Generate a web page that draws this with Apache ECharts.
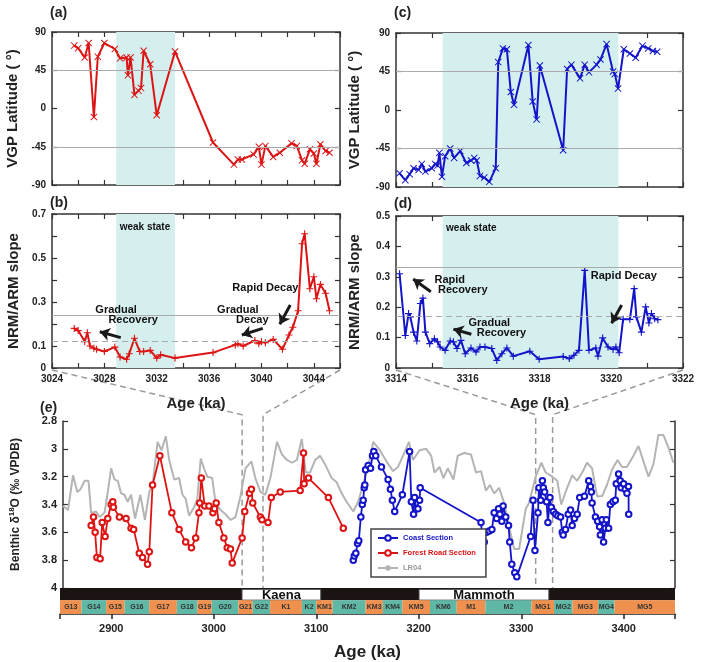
<!DOCTYPE html>
<html>
<head>
<meta charset="utf-8">
<script src="https://cdn.jsdelivr.net/npm/echarts@6/dist/echarts.min.js"></script>
<style>
html, body { margin: 0; padding: 0; background: #fff; }
#chart { width: 705px; height: 662px; }
</style>
</head>
<body>
<div id="chart"></div>
<script>
// ---- panel (a): Forest Road VGP latitude ----
var aAge = [3025.7,3026.0,3026.5,3026.8,3027.2,3027.5,3028.0,3028.8,3029.2,3029.7,3029.8,3030.0,3030.3,3030.6,3030.8,3031.0,3031.5,3032.0,3033.4,3036.3,3037.9,3038.2,3038.5,3039.4,3039.8,3040.0,3040.3,3040.9,3041.4,3042.3,3042.7,3043.1,3043.3,3043.7,3044.0,3044.2,3044.5,3044.9,3045.2];
var aLat = [74,71,60,77,-10,61,77,70,59,60,39,60,16,21,24,68,52,-8,67,-40,-66,-60,-60,-54,-45,-66,-44,-57,-52,-41,-44,-61,-65,-48,-53,-65,-42,-50,-52];
// ---- panel (b): Forest Road NRM/ARM slope ----
var bAge = [3025.7,3026.0,3026.5,3026.7,3026.9,3027.2,3027.4,3028.0,3028.8,3029.2,3029.7,3029.9,3030.3,3030.7,3031.0,3031.5,3032.0,3032.3,3033.4,3036.3,3038.0,3038.2,3038.6,3039.5,3039.8,3040.0,3040.3,3040.9,3041.6,3042.1,3042.4,3042.8,3043.1,3043.3,3043.7,3044.0,3044.2,3044.5,3044.9,3045.2];
var bSlope = [0.18,0.17,0.12,0.16,0.10,0.09,0.085,0.075,0.095,0.05,0.04,0.065,0.135,0.075,0.075,0.08,0.045,0.06,0.045,0.07,0.105,0.11,0.10,0.125,0.11,0.12,0.115,0.13,0.085,0.15,0.185,0.26,0.565,0.61,0.36,0.415,0.315,0.38,0.34,0.26];
// ---- panel (c): Coast VGP latitude ----
var cAge = [3314.1,3314.26,3314.38,3314.49,3314.63,3314.72,3314.82,3315.0,3315.09,3315.16,3315.21,3315.28,3315.37,3315.51,3315.62,3315.79,3315.96,3316.09,3316.18,3316.25,3316.34,3316.46,3316.6,3316.78,3316.85,3316.98,3317.09,3317.2,3317.29,3317.69,3317.81,3317.92,3318.01,3318.66,3318.77,3318.89,3319.13,3319.26,3319.38,3319.59,3319.7,3319.87,3320.05,3320.1,3320.19,3320.35,3320.52,3320.68,3320.87,3321.03,3321.16,3321.28];
var cLat = [-74,-82,-75,-68,-70,-63,-72,-68,-63,-65,-50,-78,-54,-45,-56,-48,-62,-59,-56,-59,-77,-79,-84,-68,56,72,71,21,6,76,10,-11,52,-47,48,53,37,53,44,53,59,77,45,42,25,71,66,61,75,72,69,68];
// ---- panel (d): Coast NRM/ARM slope ----
var dAge = [3314.1,3314.26,3314.35,3314.4,3314.49,3314.58,3314.68,3314.75,3314.82,3314.94,3315.07,3315.16,3315.23,3315.37,3315.51,3315.6,3315.7,3315.81,3315.93,3316.09,3316.23,3316.34,3316.48,3316.67,3316.81,3316.95,3317.09,3317.27,3317.73,3317.99,3318.66,3318.83,3318.96,3319.1,3319.26,3319.38,3319.57,3319.63,3319.76,3319.91,3320.05,3320.13,3320.22,3320.33,3320.52,3320.64,3320.7,3320.84,3320.96,3321.05,3321.12,3321.21,3321.3];
var dSlope = [0.31,0.107,0.179,0.168,0.118,0.089,0.212,0.23,0.118,0.08,0.096,0.086,0.069,0.058,0.089,0.086,0.064,0.091,0.047,0.066,0.053,0.069,0.069,0.064,0.025,0.047,0.066,0.039,0.055,0.029,0.038,0.031,0.042,0.058,0.321,0.058,0.066,0.039,0.099,0.069,0.061,0.069,0.05,0.16,0.16,0.261,0.168,0.118,0.201,0.148,0.179,0.162,0.159];
var weakAB = [3028.9, 3033.4];
var weakCD = [3315.3, 3320.2];

// ---- panel (e): benthic d18O ----
var forestAge = [2877.6,2879.9,2881.5,2883.2,2886.4,2888.4,2891.3,2893.9,2897.2,2898.8,2899.4,2905.3,2911.8,2916.7,2919.3,2924.8,2928.0,2932.9,2934.6,2937.8,2945.0,2956.7,2963.8,2970.3,2975.9,2980.1,2983.3,2984.0,2985.6,2988.9,2993.1,2997.0,2998.6,3000.2,3002.8,3007.7,3011.0,3014.2,3015.9,3025.6,3028.2,3032.8,3034.7,3036.0,3043.5,3045.1,3051.0,3054.2,3063.0,3082.5,3085.8,3086.4,3090.7,3110.2,3124.8];
var forestD18O = [3.55,3.49,3.60,3.78,3.79,3.53,3.63,3.50,3.40,3.38,3.42,3.49,3.50,3.57,3.58,3.75,3.78,3.83,3.74,3.26,3.05,3.46,3.58,3.67,3.71,3.64,3.46,3.39,3.21,3.41,3.41,3.46,3.43,3.39,3.53,3.64,3.71,3.72,3.82,3.64,3.45,3.32,3.29,3.39,3.49,3.51,3.53,3.35,3.31,3.30,3.03,3.25,3.21,3.35,3.57];
var coastAge = [3134.6,3135.6,3137.1,3138.8,3140.0,3142.0,3143.4,3144.3,3145.3,3145.9,3146.6,3149.2,3151.5,3153.4,3154.7,3156.6,3162.2,3168.7,3171.0,3172.9,3175.2,3182.7,3189.8,3191.5,3193.7,3194.7,3196.3,3198.0,3199.6,3200.2,3259.8,3261.4,3263.0,3265.3,3267.9,3270.5,3272.7,3275.1,3277.0,3278.3,3280.2,3281.5,3284.1,3286.8,3288.0,3290.0,3292.9,3294.9,3308.5,3310.8,3312.7,3315.7,3316.6,3318.3,3320.0,3320.9,3322.2,3324.1,3325.4,3327.4,3328.7,3330.7,3332.9,3335.2,3337.8,3339.5,3340.4,3342.7,3345.3,3347.6,3349.2,3351.5,3354.1,3356.6,3361.2,3365.4,3367.1,3368.0,3368.7,3372.0,3374.2,3376.1,3376.8,3378.5,3380.0,3381.7,3382.7,3384.9,3386.6,3389.2,3391.5,3392.4,3394.7,3396.3,3397.3,3399.6,3401.2,3402.9,3404.4,3404.6];
var coastD18O = [3.80,3.77,3.75,3.68,3.66,3.49,3.40,3.37,3.28,3.26,3.15,3.12,3.14,3.05,3.02,3.05,3.13,3.22,3.29,3.37,3.45,3.33,3.02,3.38,3.47,3.35,3.43,3.43,3.37,3.28,3.53,3.66,3.67,3.60,3.59,3.58,3.46,3.50,3.43,3.47,3.52,3.41,3.49,3.55,3.67,3.83,3.89,3.92,3.63,3.37,3.73,3.46,3.28,3.37,3.23,3.28,3.31,3.38,3.53,3.35,3.42,3.45,3.47,3.48,3.49,3.60,3.62,3.58,3.47,3.44,3.55,3.50,3.47,3.35,3.34,3.23,3.27,3.31,3.39,3.49,3.52,3.56,3.62,3.51,3.67,3.57,3.51,3.57,3.40,3.38,3.37,3.25,3.18,3.23,3.28,3.25,3.29,3.32,3.27,3.47];
var lr04Age = [2850,2854.9,2859.8,2864,2867.2,2871.1,2875,2877.6,2882.5,2885.8,2890.7,2893.9,2897.2,2900.4,2903.7,2906.9,2910.2,2913.4,2916.7,2920.6,2925.8,2930.3,2934.6,2937.8,2942.7,2946.6,2950.8,2954.1,2959,2963.8,2967.1,2970.3,2973.6,2978.5,2981.7,2985,2988.2,2991.5,2996.3,
  2999.6,3004.5,3009.3,3014.2,3019.1,3024,3028.9,3034.7,3038.6,3043.5,3048.4,3053.3,3059.8,3064.6,3069.5,3074.4,3079.3,3084.1,3088,3092.3,3097.2,3102,3106.9,3113.4,3118.3,3123.2,3128,3134.6,3139.4,
  3149.2,3154.1,3160.6,3167.1,3173.6,3178.5,3183.3,3189.2,3193.1,3199.6,3206.1,3211,3214.2,3219.1,3223,3227.2,3232.8,3237,3243.5,3250,3254.9,3259.8,3264.6,3268.5,3272.8,3277.6,3282.5,3287.4,3292.3,3297.2,
  3303.7,3306.9,3313.4,3319,3323.2,3329.7,3334.6,3338.5,3342.7,3349.2,3354.1,3359,3363.8,3368.7,3373.6,3378.5,3383.3,3388.2,3393.7,3398,3402.8,3409.3,3414.2,3419.1,3424,3428.9,3433.7,3438.6,3443.5,3448.4];
var lr04D18O = [3.41,3.44,3.19,3.31,3.29,3.23,3.23,3.46,3.45,3.49,3.46,3.31,3.14,3.22,3.23,3.32,3.33,3.38,3.33,3.50,3.33,3.51,3.31,3.26,2.95,3.01,2.91,3.08,3.22,3.21,3.33,3.36,3.48,3.42,3.36,3.07,3.14,3.20,3.21,
  3.39,3.44,3.47,3.51,3.49,3.34,3.14,3.09,3.21,3.31,3.33,3.21,2.95,3.04,3.08,3.10,3.08,2.93,3.17,3.17,3.08,3.05,3.11,3.21,3.24,3.32,3.38,3.45,3.38,
  3.13,2.95,3.01,3.09,3.16,3.13,3.05,2.95,3.08,3.01,3.00,3.05,3.17,3.13,3.21,3.14,3.22,3.05,3.03,3.04,3.17,3.16,3.30,3.26,3.32,3.28,3.39,3.56,3.72,3.72,
  3.43,3.39,3.20,3.10,3.17,3.20,3.23,3.40,3.31,3.19,3.23,3.17,3.10,3.14,3.34,3.34,3.26,3.15,3.08,3.13,3.13,3.05,2.98,3.09,3.20,3.11,2.90,2.90,2.99,3.10];
var eTickAges = [2850,2900,3000,3100,3200,3300,3400,3450];
var eLabelAges = [2900,3000,3100,3200,3300,3400];
var kaenaZoom = [3025.6, 3046.1];
var mammothZoom = [3313.4, 3330.0];

// ---- stages and polarity ----
var chronNames = ['G13','G14','G15','G16','G17','G18','G19','G20','G21','G22','K1','K2','KM1','KM2','KM3','KM4','KM5','KM6','M1','M2','MG1','MG2','MG3','MG4','MG5'];
var chronEdges = [2850,2871,2895,2913,2937,2964,2984,2998,3024,3038,3055,3086,3100,3116,3148,3165,3184,3211,3237,3265,3310,3332,3350,3375,3391,3450];
var subchronNames = ['Kaena', 'Mammoth'];
var subchronStart = [3027.5, 3200.2];
var subchronEnd = [3104.5, 3327.0];

var font = 'Arial, "Liberation Sans", Helvetica, sans-serif';
var RED = '#dc1414', BLUE = '#1414c8', GRAY = '#b4b4b4', SHADE = '#d5eeee', INK = '#222';
var ORANGE = '#f0904e', TEAL = '#5fb8a6';
var XMARK = 'path://M0,1L1,0L5,4L9,0L10,1L6,5L10,9L9,10L5,6L1,10L0,9L4,5Z';
var PLUS = 'path://M4.2,0H5.8V4.2H10V5.8H5.8V10H4.2V5.8H0V4.2H4.2Z';

function pairs(xs, ys) {
    return xs.map(function (x, i) { return [x, ys[i]]; });
}

function frameAxis(gi, pos, min, max, step, opts) {
    opts = opts || {};
    return {
        type: 'value', gridIndex: gi, position: pos, min: min, max: max, interval: step,
        inverse: !!opts.inverse,
        name: opts.name || '', nameLocation: 'middle', nameGap: opts.nameGap || 0,
        nameTextStyle: { fontFamily: font, fontWeight: 'bold', fontSize: opts.nameSize || 15, color: INK, rich: opts.rich },
        axisLine: { show: true, onZero: false, lineStyle: { color: '#333', width: 1.5 } },
        axisTick: { show: true, inside: true, length: 5, lineStyle: { color: '#333', width: 1.2 } },
        axisLabel: {
            show: !!opts.label, formatter: typeof opts.label === 'function' ? opts.label : null,
            showMinLabel: true, showMaxLabel: true,
            fontFamily: font, fontWeight: 'bold', fontSize: opts.labelSize || 10, color: INK, margin: 6
        },
        splitLine: { show: false }
    };
}

var bAgeLabel = function (v) { var r = Math.round(v); return (r - 3024) % 4 === 0 ? String(r) : ''; };
var dAgeLabel = function (v) { var r = Math.round(v); return r % 2 === 0 ? String(r) : ''; };
var bSlopeLabel = function (v) { var k = Math.round(v * 10); return [0, 1, 3, 5, 7].indexOf(k) >= 0 ? String(k / 10) : ''; };
var dSlopeLabel = function (v) { return String(Math.round(v * 10) / 10); };

function panelSeries(gi, ages, vals, color, symbol, weak, refLines) {
    return {
        type: 'line', xAxisIndex: gi * 2, yAxisIndex: gi * 2,
        data: pairs(ages, vals), symbol: symbol, symbolSize: 7,
        lineStyle: { color: color, width: 2 }, itemStyle: { color: color },
        silent: true, z: 3,
        markArea: { silent: true, itemStyle: { color: SHADE }, data: [[{ xAxis: weak[0] }, { xAxis: weak[1] }]] },
        markLine: { silent: true, symbol: 'none', label: { show: false }, data: refLines }
    };
}

function noteSeries(gi, notes, arrows) {
    return {
        type: 'scatter', xAxisIndex: gi * 2, yAxisIndex: gi * 2, silent: true, z: 5,
        symbolSize: 0, itemStyle: { color: '#111', opacity: 1 },
        label: { show: true, position: 'inside', formatter: '{b}', fontFamily: font, fontWeight: 'bold', fontSize: 11, color: '#111', opacity: 1, textBorderWidth: 0 },
        data: notes,
        markLine: {
            silent: true, symbol: ['none', 'arrow'], symbolSize: 10, label: { show: false },
            lineStyle: { color: '#1a1a1a', width: 3, type: 'solid', opacity: 1 },
            data: arrows.map(function (a) { return [{ coord: a[0] }, { coord: a[1] }]; })
        }
    };
}

var refSolid = { color: '#aaa', width: 1, type: 'solid' };
var refDash = { color: '#aaa', width: 1, type: [6, 4] };

var chart = echarts.init(document.getElementById('chart'));
var option = {
    animation: false,
    backgroundColor: '#fff',
    textStyle: { fontFamily: font },
    grid: [
        { left: 52, top: 32, width: 288, height: 153 },
        { left: 52, top: 214, width: 288, height: 154 },
        { left: 396, top: 33, width: 287, height: 154 },
        { left: 396, top: 216, width: 287, height: 152 },
        { left: 60, top: 421, width: 615, height: 167 },
        { left: 60, top: 588, width: 615, height: 32 }
    ],
    xAxis: [
        frameAxis(0, 'bottom', 3024, 3046, 2),
        frameAxis(0, 'top', 3024, 3046, 2),
        frameAxis(1, 'bottom', 3024, 3046, 2, { label: bAgeLabel, name: 'Age (ka)', nameGap: 28, nameSize: 15 }),
        frameAxis(1, 'top', 3024, 3046, 2),
        frameAxis(2, 'bottom', 3314, 3322, 1),
        frameAxis(2, 'top', 3314, 3322, 1),
        frameAxis(3, 'bottom', 3314, 3322, 1, { label: dAgeLabel, name: 'Age (ka)', nameGap: 28, nameSize: 15 }),
        frameAxis(3, 'top', 3314, 3322, 1),
        { type: 'value', gridIndex: 4, min: 2850, max: 3450, show: false },
        {
            type: 'value', gridIndex: 5, min: 2850, max: 3450, position: 'bottom',
            name: 'Age (ka)', nameLocation: 'middle', nameGap: 30,
            nameTextStyle: { fontFamily: font, fontWeight: 'bold', fontSize: 17, color: INK },
            axisLine: { show: true, lineStyle: { color: '#222', width: 1.5 } },
            axisTick: { show: true, inside: false, length: 5, customValues: eTickAges, lineStyle: { color: '#222', width: 1.5 } },
            axisLabel: {
                show: true, customValues: eLabelAges, formatter: function (v) { return String(Math.round(v)); },
                fontFamily: font, fontWeight: 'bold', fontSize: 11, color: INK, margin: 9
            },
            splitLine: { show: false }
        }
    ],
    yAxis: [
        frameAxis(0, 'left', -90, 90, 45, { label: true, name: 'VGP Latitude ( °)', nameGap: 32 }),
        frameAxis(0, 'right', -90, 90, 45),
        frameAxis(1, 'left', 0, 0.7, 0.1, { label: bSlopeLabel, name: 'NRM/ARM slope', nameGap: 31 }),
        frameAxis(1, 'right', 0, 0.7, 0.1),
        frameAxis(2, 'left', -90, 90, 45, { label: true, name: 'VGP Latitude ( °)', nameGap: 34 }),
        frameAxis(2, 'right', -90, 90, 45),
        frameAxis(3, 'left', 0, 0.5, 0.1, { label: dSlopeLabel, name: 'NRM/ARM slope', nameGap: 34 }),
        frameAxis(3, 'right', 0, 0.5, 0.1),
        frameAxis(4, 'left', 2.8, 4, 0.2, {
            inverse: true, label: true, labelSize: 11, name: 'Benthic δ{sup|18}O (‰ VPDB)', nameGap: 40, nameSize: 12,
            rich: { sup: { fontSize: 8, fontWeight: 'bold', fontFamily: font, color: INK, padding: [0, 0, 7, 0] } }
        }),
        frameAxis(4, 'right', 2.8, 4, 0.2, { inverse: true }),
        { type: 'value', gridIndex: 5, min: 0, max: 32, show: false }
    ],
    legend: {
        data: [
            { name: 'Coast Section', textStyle: { color: BLUE } },
            { name: 'Forest Road Section', textStyle: { color: RED } },
            { name: 'LR04', textStyle: { color: '#999' } }
        ],
        orient: 'vertical', left: 371, top: 529, itemWidth: 20, itemHeight: 7, itemGap: 7,
        textStyle: { fontFamily: font, fontWeight: 'bold', fontSize: 7.5 },
        borderColor: '#444', borderWidth: 1.5, padding: [5, 10, 5, 6], backgroundColor: '#fff',
        selectedMode: false
    },
    series: [
        panelSeries(0, aAge, aLat, RED, XMARK, weakAB, [{ yAxis: 45, lineStyle: refSolid }, { yAxis: -45, lineStyle: refSolid }]),
        panelSeries(1, bAge, bSlope, RED, PLUS, weakAB, [{ yAxis: 0.24, lineStyle: refSolid }, { yAxis: 0.12, lineStyle: refDash }]),
        panelSeries(2, cAge, cLat, BLUE, XMARK, weakCD, [{ yAxis: 45, lineStyle: refSolid }, { yAxis: -45, lineStyle: refSolid }]),
        panelSeries(3, dAge, dSlope, BLUE, PLUS, weakCD, [{ yAxis: 0.33, lineStyle: refSolid }, { yAxis: 0.165, lineStyle: refDash }]),
        noteSeries(1, [
            { name: 'weak state', value: [3031.1, 0.638], label: { fontSize: 10 } },
            { name: 'Gradual', value: [3028.9, 0.264] },
            { name: 'Recovery', value: [3030.2, 0.218] },
            { name: 'Gradual', value: [3038.2, 0.264] },
            { name: 'Decay', value: [3039.3, 0.218] },
            { name: 'Rapid Decay', value: [3040.3, 0.365] }
        ], [
            [[3029.25, 0.138], [3027.65, 0.165]],
            [[3040.1, 0.180], [3038.5, 0.150]],
            [[3042.2, 0.286], [3041.4, 0.199]]
        ]),
        noteSeries(3, [
            { name: 'weak state', value: [3316.1, 0.461], label: { fontSize: 10 } },
            { name: 'Rapid', value: [3315.5, 0.289] },
            { name: 'Recovery', value: [3315.86, 0.257] },
            { name: 'Gradual', value: [3316.6, 0.147] },
            { name: 'Recovery', value: [3316.94, 0.116] },
            { name: 'Rapid Decay', value: [3320.35, 0.304] }
        ], [
            [[3314.97, 0.251], [3314.48, 0.293]],
            [[3316.1, 0.111], [3315.6, 0.128]],
            [[3320.29, 0.207], [3320.01, 0.147]]
        ]),
        {
            name: 'LR04', type: 'line', xAxisIndex: 8, yAxisIndex: 8, data: pairs(lr04Age, lr04D18O),
            symbol: 'none', lineStyle: { color: GRAY, width: 2 }, itemStyle: { color: GRAY }, silent: true, z: 2
        },
        {
            name: 'Forest Road Section', type: 'line', xAxisIndex: 8, yAxisIndex: 8, data: pairs(forestAge, forestD18O),
            symbol: 'emptyCircle', symbolSize: 5.5, lineStyle: { color: RED, width: 1.8 },
            itemStyle: { color: RED, borderWidth: 1.3 }, silent: true, z: 3
        },
        {
            name: 'Coast Section', type: 'line', xAxisIndex: 8, yAxisIndex: 8, data: pairs(coastAge, coastD18O),
            symbol: 'emptyCircle', symbolSize: 5.5, lineStyle: { color: BLUE, width: 1.8 },
            itemStyle: { color: BLUE, borderWidth: 1.3 }, silent: true, z: 3
        },
        {
            // reversed polarity background
            type: 'custom', xAxisIndex: 9, yAxisIndex: 10, silent: true, z: 1,
            data: [[2850, 3450]],
            renderItem: function (params, api) {
                var p0 = api.coord([api.value(0), 32]);
                var p1 = api.coord([api.value(1), 17]);
                return { type: 'rect', shape: { x: p0[0], y: p0[1], width: p1[0] - p0[0], height: p1[1] - p0[1] }, style: { fill: '#1c1412' } };
            }
        },
        {
            // normal subchrons
            type: 'custom', xAxisIndex: 9, yAxisIndex: 10, silent: true, z: 2,
            data: subchronNames.map(function (n, i) { return [subchronStart[i], subchronEnd[i]]; }),
            renderItem: function (params, api) {
                var i = params.dataIndex;
                var p0 = api.coord([api.value(0), 30.5]);
                var p1 = api.coord([api.value(1), 17]);
                return {
                    type: 'group', children: [
                        { type: 'rect', shape: { x: p0[0], y: p0[1], width: p1[0] - p0[0], height: p1[1] - p0[1] }, style: { fill: '#fff', stroke: '#333', lineWidth: 1 } },
                        { type: 'text', style: { text: subchronNames[i], x: (p0[0] + p1[0]) / 2, y: (p0[1] + p1[1]) / 2 + 0.5, textAlign: 'center', textVerticalAlign: 'middle', fontSize: 13, fontWeight: 'bold', fontFamily: font, fill: '#111' } }
                    ]
                };
            }
        },
        {
            // marine isotope stages
            type: 'custom', xAxisIndex: 9, yAxisIndex: 10, silent: true, z: 2,
            data: chronNames.map(function (n, i) { return [chronEdges[i], chronEdges[i + 1]]; }),
            renderItem: function (params, api) {
                var i = params.dataIndex;
                var p0 = api.coord([api.value(0), 17]);
                var p1 = api.coord([api.value(1), 0]);
                return {
                    type: 'group', children: [
                        { type: 'rect', shape: { x: p0[0], y: p0[1], width: p1[0] - p0[0], height: p1[1] - p0[1] }, style: { fill: i % 2 ? TEAL : ORANGE } },
                        { type: 'text', style: { text: chronNames[i], x: (p0[0] + p1[0]) / 2, y: (p0[1] + p1[1]) / 2, textAlign: 'center', textVerticalAlign: 'middle', fontSize: 7, fontWeight: 'bold', fontFamily: font, fill: '#333' } }
                    ]
                };
            }
        }
    ]
};
chart.setOption(option);

// dashed zoom connectors between (b)/(d) and (e), panel letters
function toPx(gi, pt) { return chart.convertToPixel({ gridIndex: gi }, pt); }
var dashStyle = { stroke: '#9a9a9a', lineWidth: 1.5, lineDash: [6, 4], fill: null };
var graphics = [];
function connector(gi, corner, age) {
    var a = toPx(gi, corner);
    var b = toPx(4, [age, 2.755]);
    var c = toPx(4, [age, 4]);
    graphics.push({ type: 'polyline', silent: true, z: 0, shape: { points: [[a[0], a[1] + 2], b, c] }, style: dashStyle });
}
connector(1, [3024, 0], kaenaZoom[0]);
connector(1, [3046, 0], kaenaZoom[1]);
connector(3, [3314, 0], mammothZoom[0]);
connector(3, [3322, 0], mammothZoom[1]);

[['(a)', 50, 6], ['(b)', 50, 196], ['(c)', 394, 6], ['(d)', 394, 197], ['(e)', 40, 401]].forEach(function (t) {
    graphics.push({ type: 'text', silent: true, left: t[1], top: t[2], style: { text: t[0], fontSize: 14, fontWeight: 'bold', fontFamily: font, fill: INK } });
});
chart.setOption({ graphic: graphics });
</script>
</body>
</html>
